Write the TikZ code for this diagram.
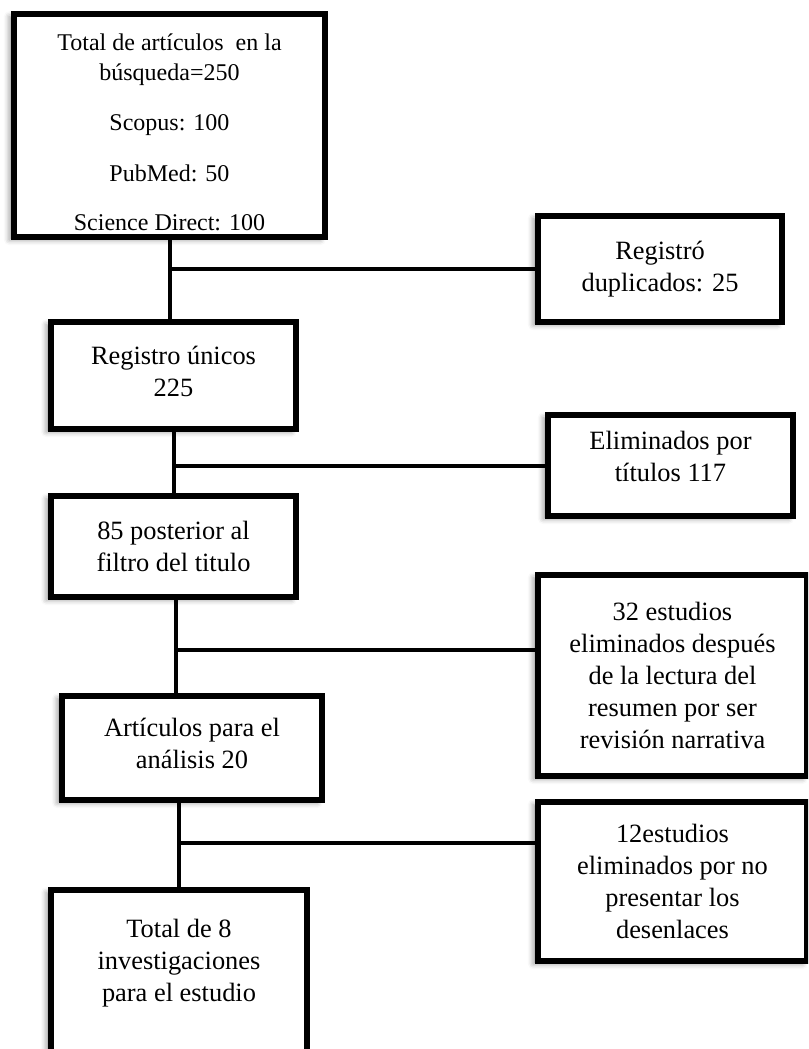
\documentclass[tikz,border=0pt]{standalone}
\usepackage{fontspec}
\setmainfont{Liberation Serif}
\usetikzlibrary{shadows.blur}
\begin{document}
\begin{tikzpicture}[x=0.75pt,y=-0.75pt,
  box/.style={draw=black, line width=4.3pt, fill=white, align=center, inner sep=0pt,
    blur shadow={shadow xshift=-3.5pt, shadow yshift=-2pt, shadow blur radius=4pt, shadow opacity=40}},
  bigtxt/.style={font=\fontsize{19.8}{24}\selectfont},
  smalltxt/.style={font=\fontsize{18}{22.5}\selectfont},
  link/.style={line width=3pt}]
\useasboundingbox (0,0) rectangle (808,1049);
\clip (0,0) rectangle (808,1049);
% left column
\node[box, smalltxt, minimum width=311.3*0.75pt, minimum height=223.3*0.75pt] (b1) at (169.5,125.5)
  {\mbox{}\\[1pt]Total de artículos\ \ en la\\búsqueda=250\\[14.5pt]Scopus: 100\\[16pt]PubMed: 50\\[14.5pt]Science Direct: 100};
\node[box, bigtxt, minimum width=245.3*0.75pt, minimum height=107.3*0.75pt] (b3) at (173.5,375.5)
  {Registro únicos\\225\\[-18pt]\mbox{}};
\node[box, bigtxt, minimum width=245.3*0.75pt, minimum height=101.3*0.75pt] (b4) at (173.5,546.5)
  {85 posterior al\\filtro del titulo};
\node[box, bigtxt, minimum width=260.3*0.75pt, minimum height=104.3*0.75pt] (b6) at (192,748)
  {Artículos para el\\análisis 20\\[-16.5pt]\mbox{}};
\node[box, bigtxt, minimum width=256.3*0.75pt, minimum height=185.2*0.75pt] (b7) at (179,982.4)
  {Total de 8\\investigaciones\\para el estudio\\[9pt]\mbox{}};
% right column
\node[box, bigtxt, minimum width=244.3*0.75pt, minimum height=106.3*0.75pt] (b2) at (660,269)
  {Registró\\duplicados: 25};
\node[box, bigtxt, minimum width=245.3*0.75pt, minimum height=101.3*0.75pt] (b5) at (670.5,465.5)
  {Eliminados por\\títulos 117\\[-10.5pt]\mbox{}};
\node[box, bigtxt, minimum width=269.3*0.75pt, minimum height=201.3*0.75pt] (b8) at (672.5,675.5)
  {32 estudios\\eliminados después\\de la lectura del\\resumen por ser\\revisión narrativa};
\node[box, bigtxt, minimum width=269.3*0.75pt, minimum height=159.3*0.75pt] (b9) at (672.5,881.5)
  {12estudios\\eliminados por no\\presentar los\\desenlaces};
% connectors
\coordinate (j3) at (175.5,650);
\coordinate (j4) at (179,843);
\draw[link] (b1.south) -- (b1.south |- b3.north);
\draw[link] (b1.south |- b2.west) -- (b2.west);
\draw[link] (b3.south) -- (b4.north);
\draw[link] (b3.south |- b5.west) -- (b5.west);
\draw[link] (b4.south -| j3) -- (j3 |- b6.north);
\draw[link] (j3) -- (j3 -| b8.west);
\draw[link] (b7.north |- b6.south) -- (b7.north);
\draw[link] (j4) -- (j4 -| b9.west);
\end{tikzpicture}
\end{document}
